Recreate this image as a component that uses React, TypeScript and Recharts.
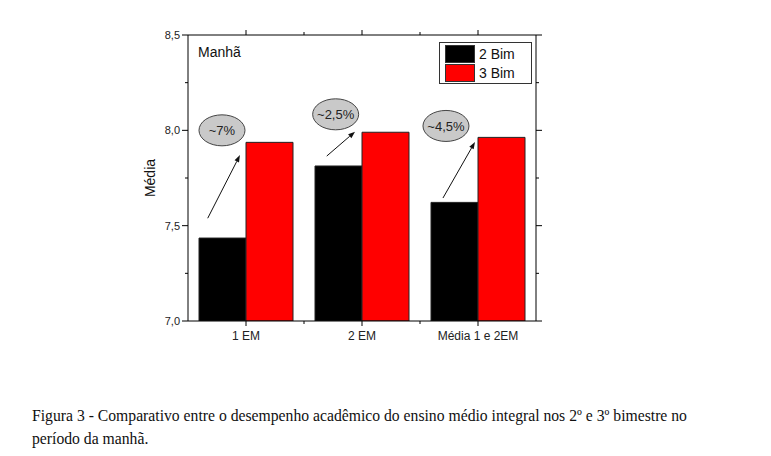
import { BarChart, Bar, XAxis, YAxis, Legend, ReferenceLine, ReferenceDot, Customized } from 'recharts';

const categories = ['1 EM', '2 EM', 'Média 1 e 2EM'];
const bim2 = [7.435, 7.813, 7.622];
const bim3 = [7.937, 7.99, 7.963];
const yTicks = [7, 7.25, 7.5, 7.75, 8, 8.25, 8.5];

// annotation bubbles: x in category units (0..3), y in data units
const bubbleLabels = ['~7%', '~2,5%', '~4,5%'];
const bubbleX = [0.293, 1.273, 2.224];
const bubbleY = [8.0, 8.084, 8.023];
const arrowFrom = [
  { x: 0.17, y: 7.539 },
  { x: 1.196, y: 7.865 },
  { x: 2.198, y: 7.645 },
];
const arrowTo = [
  { x: 0.448, y: 7.87 },
  { x: 1.44, y: 7.993 },
  { x: 2.474, y: 7.939 },
];

const data = categories.map((name, i) => ({ name, pos: i + 0.5, bim2: bim2[i], bim3: bim3[i] }));

const FONT = '"Liberation Sans", Arial, sans-serif';
const CAT_HALF = 58;
const isMajor = (v: number) => Math.abs(v * 2 - Math.round(v * 2)) < 1e-6;
const fmt = (v: number) => v.toFixed(1).replace('.', ',');

function LeftTick({ x, y, payload }: any) {
  const len = isMajor(payload.value) ? 6 : 3;
  return (
    <g>
      <line x1={x - len} x2={x} y1={y} y2={y} stroke="#000" />
      {isMajor(payload.value) && (
        <text x={x - 8} y={y} dy={4} textAnchor="end" fontSize={11} fontFamily={FONT} fill="#222">
          {fmt(payload.value)}
        </text>
      )}
    </g>
  );
}

function RightTick({ x, y, payload }: any) {
  const len = isMajor(payload.value) ? 6 : 3;
  return <line x1={x} x2={x + len} y1={y} y2={y} stroke="#000" />;
}

function BottomTick({ x, y, payload, index }: any) {
  return (
    <g>
      <line x1={x} x2={x} y1={y} y2={y + 5} stroke="#000" />
      {index < categories.length - 1 && (
        <line x1={x + CAT_HALF} x2={x + CAT_HALF} y1={y} y2={y + 3} stroke="#000" />
      )}
      <text x={x} y={y + 19} textAnchor="middle" fontSize={12} fontFamily={FONT} fill="#222">
        {payload.value}
      </text>
    </g>
  );
}

function TopTick({ x, y, index }: any) {
  return (
    <g>
      <line x1={x} x2={x} y1={y} y2={y - 5} stroke="#000" />
      {index < categories.length - 1 && (
        <line x1={x + CAT_HALF} x2={x + CAT_HALF} y1={y} y2={y - 3} stroke="#000" />
      )}
    </g>
  );
}

function Arrow({ x1, y1, x2, y2 }: any) {
  const a = Math.atan2(y2 - y1, x2 - x1);
  const L = 7;
  const W = 2.5;
  const bx = x2 - L * Math.cos(a);
  const by = y2 - L * Math.sin(a);
  const px = -Math.sin(a) * W;
  const py = Math.cos(a) * W;
  return (
    <g>
      <line x1={x1} y1={y1} x2={bx} y2={by} stroke="#111" strokeWidth={1} />
      <polygon points={`${x2},${y2} ${bx + px},${by + py} ${bx - px},${by - py}`} fill="#111" />
    </g>
  );
}

function makeBubble(label: string) {
  return ({ cx, cy }: any) => (
    <g>
      <ellipse cx={cx} cy={cy} rx={23} ry={15.5} fill="#c9c9c9" stroke="#444" strokeWidth={1} />
      <text x={cx} y={cy} dy={5} textAnchor="middle" fontSize={13} fontFamily={FONT} fill="#222">
        {label}
      </text>
    </g>
  );
}

function LegendBox() {
  const row = (color: string, label: string) => (
    <div style={{ display: 'flex', alignItems: 'center', height: 19 }}>
      <div style={{ width: 28, height: 16, background: color, border: '1px solid #333', marginRight: 4 }} />
      <span style={{ fontSize: 14, fontFamily: FONT, color: '#111' }}>{label}</span>
    </div>
  );
  return (
    <div style={{ border: '1px solid #333', padding: '1px 5px', width: 81, background: '#fff' }}>
      {row('#000', '2 Bim')}
      {row('#ff0000', '3 Bim')}
    </div>
  );
}

function Titles() {
  return (
    <g fontFamily={FONT} fill="#111">
      <text x={198} y={57} fontSize={14}>Manhã</text>
      <text x={155} y={178} fontSize={14} textAnchor="middle" transform="rotate(-90 155 178)">
        Média
      </text>
    </g>
  );
}

export default function App() {
  return (
    <div style={{ position: 'absolute', left: 0, top: 0, width: 771, height: 456, background: '#fff' }}>
      <BarChart
        width={771}
        height={360}
        data={data}
        margin={{ top: 30, right: 225, bottom: 9, left: 148 }}
        barCategoryGap={11}
        barGap={0}
      >
        <XAxis
          dataKey="name"
          height={30}
          axisLine={{ stroke: '#000' }}
          tickLine={false}
          tickSize={0}
          tickMargin={0}
          tick={<BottomTick />}
          interval={0}
        />
        <XAxis
          xAxisId="top"
          dataKey="name"
          orientation="top"
          height={5}
          axisLine={{ stroke: '#000' }}
          tickLine={false}
          tickSize={0}
          tickMargin={0}
          tick={<TopTick />}
          interval={0}
        />
        <XAxis xAxisId="num" dataKey="pos" type="number" domain={[0, 3]} allowDataOverflow hide />
        <YAxis
          width={40}
          domain={[7, 8.5]}
          ticks={yTicks}
          allowDataOverflow
          axisLine={{ stroke: '#000' }}
          tickLine={false}
          tickSize={0}
          tickMargin={0}
          tick={<LeftTick />}
          interval={0}
        />
        <YAxis
          yAxisId="r"
          orientation="right"
          width={10}
          domain={[7, 8.5]}
          ticks={yTicks}
          allowDataOverflow
          axisLine={{ stroke: '#000' }}
          tickLine={false}
          tickSize={0}
          tickMargin={0}
          tick={<RightTick />}
          interval={0}
        />
        <Bar dataKey="bim2" name="2 Bim" fill="#000" stroke="#222" strokeWidth={1} isAnimationActive={false} />
        <Bar dataKey="bim3" name="3 Bim" fill="#ff0000" stroke="#222" strokeWidth={1} isAnimationActive={false} />
        {arrowFrom.map((p, i) => (
          <ReferenceLine key={`a${i}`} xAxisId="num" segment={[p, arrowTo[i]]} shape={Arrow} />
        ))}
        {bubbleLabels.map((label, i) => (
          <ReferenceDot
            key={`b${i}`}
            xAxisId="num"
            x={bubbleX[i]}
            y={bubbleY[i]}
            r={1}
            shape={makeBubble(label)}
          />
        ))}
        <Customized component={Titles} />
        <Legend
          layout="vertical"
          align="center"
          verticalAlign="middle"
          content={() => <LegendBox />}
          wrapperStyle={{ position: 'absolute', top: 42, left: 439, width: 93, height: 40 }}
        />
      </BarChart>
      <div
        style={{
          position: 'absolute',
          left: 32,
          top: 404,
          fontFamily: '"Liberation Serif", "Times New Roman", serif',
          fontSize: 15.7,
          lineHeight: '23px',
          color: '#111',
          whiteSpace: 'nowrap',
        }}
      >
        Figura 3 - Comparativo entre o desempenho acadêmico do ensino médio integral nos 2º e 3º bimestre no
        <br />
        período da manhã.
      </div>
    </div>
  );
}
